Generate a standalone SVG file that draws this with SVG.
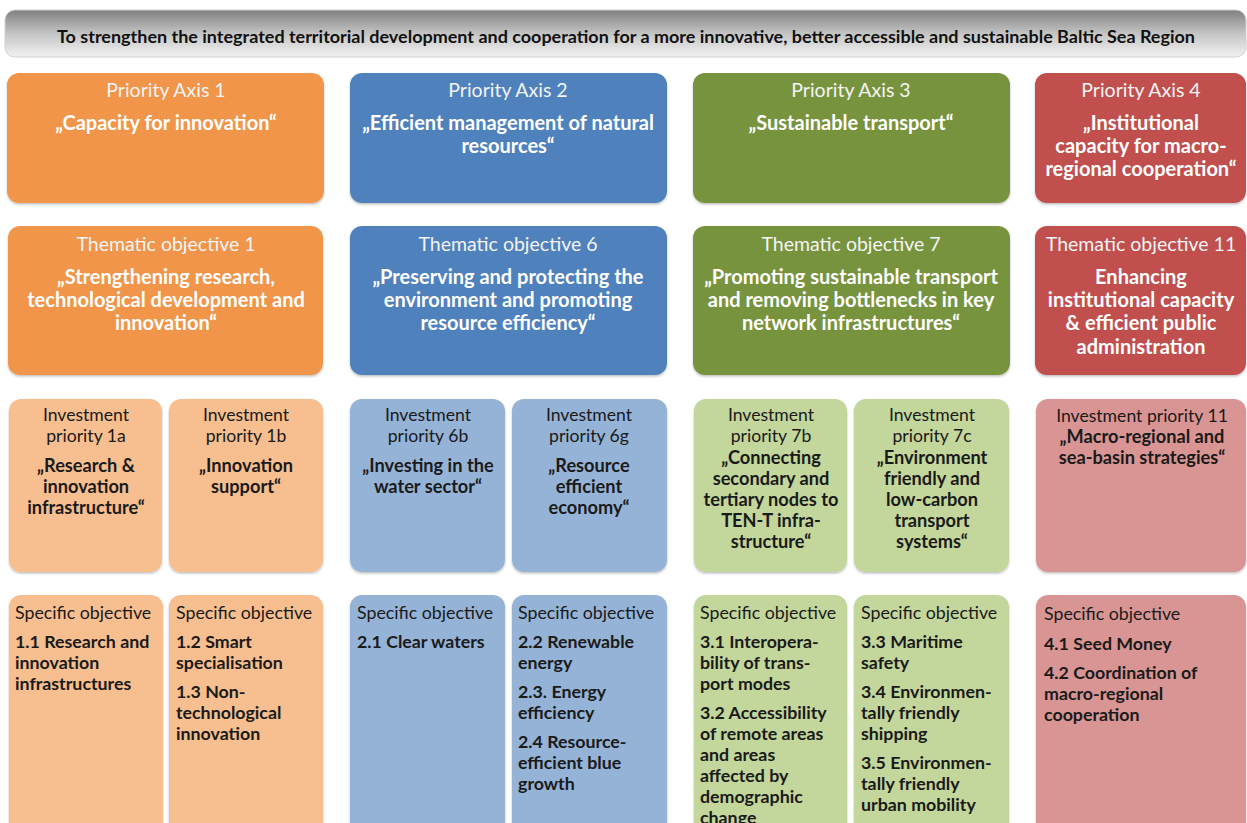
<svg xmlns="http://www.w3.org/2000/svg" width="1247" height="823" viewBox="0 0 1247 823">
<defs>
<linearGradient id="bannerGrad" x1="0" y1="0" x2="0" y2="1">
<stop offset="0" stop-color="#808080"/>
<stop offset="0.5" stop-color="#c4c4c4"/>
<stop offset="1" stop-color="#f2f2f2"/>
</linearGradient>
<filter id="shadow" x="-5%" y="-5%" width="110%" height="115%">
<feDropShadow dx="0" dy="1.5" stdDeviation="1.2" flood-color="#000" flood-opacity="0.25"/>
</filter>
<style>
text{font-family:Lato,"Open Sans","Liberation Sans",sans-serif;}
.box{filter:url(#shadow);}
.o1{fill:#F0954A;}
.b1{fill:#4F81BD;}
.g1{fill:#77933C;}
.r1{fill:#C0504D;}
.o2{fill:#F7BF8F;}
.b2{fill:#95B3D7;}
.g2{fill:#C3D69B;}
.r2{fill:#D99594;}
.wt{fill:#f4f4f4;font-size:19.5px;text-anchor:middle;}
.wb{fill:#ffffff;font-size:20px;font-weight:bold;text-anchor:middle;}
.dt{fill:#1a1a1a;font-size:17.6px;text-anchor:middle;}
.db{fill:#1a1a1a;font-size:18.2px;font-weight:bold;text-anchor:middle;}
.st{fill:#1a1a1a;font-size:17.8px;}
.sb{fill:#1a1a1a;font-size:17.8px;font-weight:bold;}
.ban{fill:#111111;font-size:16.5px;font-weight:bold;text-anchor:middle;}
</style>
</defs>
<rect width="1247" height="823" fill="#ffffff"/>

<g id="banner">
<rect x="5" y="10" width="1241" height="47" rx="10" fill="url(#bannerGrad)" stroke="#d0d0d0" stroke-width="1"/>
<text class="ban" x="626" y="43" textLength="1138" lengthAdjust="spacingAndGlyphs">To strengthen the integrated territorial development and cooperation for a more innovative, better accessible and sustainable Baltic Sea Region</text>
</g>

<g id="connectors"></g>

<!-- Priority axes -->
<g id="pa1">
<rect class="box o1" x="7" y="73" width="317" height="130" rx="12"/>
<text class="wt" x="166" y="97">Priority Axis 1</text>
<text class="wb" x="166" y="130">„Capacity for innovation“</text>
</g>
<g id="pa2">
<rect class="box b1" x="350" y="73" width="317" height="130" rx="12"/>
<text class="wt" x="508" y="97">Priority Axis 2</text>
<text class="wb" x="508" y="130">„Efficient management of natural</text>
<text class="wb" x="508" y="153">resources“</text>
</g>
<g id="pa3">
<rect class="box g1" x="693" y="73" width="317" height="130" rx="12"/>
<text class="wt" x="851" y="97">Priority Axis 3</text>
<text class="wb" x="851" y="130">„Sustainable transport“</text>
</g>
<g id="pa4">
<rect class="box r1" x="1035" y="73" width="211" height="130" rx="12"/>
<text class="wt" x="1141" y="97">Priority Axis 4</text>
<text class="wb" x="1141" y="130">„Institutional</text>
<text class="wb" x="1141" y="153">capacity for macro-</text>
<text class="wb" x="1141" y="176">regional cooperation“</text>
</g>

<!-- Thematic objectives -->
<g id="to1">
<rect class="box o1" x="8" y="226" width="315" height="149" rx="12"/>
<text class="wt" x="166" y="251">Thematic objective  1</text>
<text class="wb" x="166" y="284">„Strengthening research,</text>
<text class="wb" x="166" y="307">technological development and</text>
<text class="wb" x="166" y="330">innovation“</text>
</g>
<g id="to6">
<rect class="box b1" x="350" y="226" width="317" height="149" rx="12"/>
<text class="wt" x="508" y="251">Thematic objective  6</text>
<text class="wb" x="508" y="284">„Preserving and protecting the</text>
<text class="wb" x="508" y="307">environment and promoting</text>
<text class="wb" x="508" y="330">resource efficiency“</text>
</g>
<g id="to7">
<rect class="box g1" x="693" y="226" width="317" height="149" rx="12"/>
<text class="wt" x="851" y="251">Thematic objective  7</text>
<text class="wb" x="851" y="284">„Promoting sustainable transport</text>
<text class="wb" x="851" y="307">and removing bottlenecks in key</text>
<text class="wb" x="851" y="330">network infrastructures“</text>
</g>
<g id="to11">
<rect class="box r1" x="1035" y="226" width="211" height="149" rx="12"/>
<text class="wt" x="1141" y="251">Thematic objective  11</text>
<text class="wb" x="1141" y="284">Enhancing</text>
<text class="wb" x="1141" y="307">institutional capacity</text>
<text class="wb" x="1141" y="330">&amp; efficient public</text>
<text class="wb" x="1141" y="354">administration</text>
</g>

<!-- Investment priorities -->
<g id="ip1a">
<rect class="box o2" x="9" y="399" width="153" height="173" rx="12"/>
<text class="dt" x="86" y="421">Investment</text>
<text class="dt" x="86" y="442">priority 1a</text>
<text class="db" x="86" y="472">„Research &amp;</text>
<text class="db" x="86" y="493">innovation</text>
<text class="db" x="86" y="514">infrastructure“</text>
</g>
<g id="ip1b">
<rect class="box o2" x="169" y="399" width="154" height="173" rx="12"/>
<text class="dt" x="246" y="421">Investment</text>
<text class="dt" x="246" y="442">priority 1b</text>
<text class="db" x="246" y="472">„Innovation</text>
<text class="db" x="246" y="493">support“</text>
</g>
<g id="ip6b">
<rect class="box b2" x="350" y="399" width="155" height="173" rx="12"/>
<text class="dt" x="428" y="421">Investment</text>
<text class="dt" x="428" y="442">priority 6b</text>
<text class="db" x="428" y="472">„Investing in the</text>
<text class="db" x="428" y="493">water sector“</text>
</g>
<g id="ip6g">
<rect class="box b2" x="512" y="399" width="155" height="173" rx="12"/>
<text class="dt" x="589" y="421">Investment</text>
<text class="dt" x="589" y="442">priority 6g</text>
<text class="db" x="589" y="472">„Resource</text>
<text class="db" x="589" y="493">efficient</text>
<text class="db" x="589" y="514">economy“</text>
</g>
<g id="ip7b">
<rect class="box g2" x="694" y="399" width="153" height="173" rx="12"/>
<text class="dt" x="771" y="421">Investment</text>
<text class="dt" x="771" y="442">priority 7b</text>
<text class="db" x="771" y="464">„Connecting</text>
<text class="db" x="771" y="485">secondary and</text>
<text class="db" x="771" y="506">tertiary nodes to</text>
<text class="db" x="771" y="527">TEN-T infra-</text>
<text class="db" x="771" y="548">structure“</text>
</g>
<g id="ip7c">
<rect class="box g2" x="854" y="399" width="155" height="173" rx="12"/>
<text class="dt" x="932" y="421">Investment</text>
<text class="dt" x="932" y="442">priority 7c</text>
<text class="db" x="932" y="464">„Environment</text>
<text class="db" x="932" y="485">friendly and</text>
<text class="db" x="932" y="506">low-carbon</text>
<text class="db" x="932" y="527">transport</text>
<text class="db" x="932" y="548">systems“</text>
</g>
<g id="ip11">
<rect class="box r2" x="1036" y="399" width="210" height="173" rx="12"/>
<text class="dt" x="1142" y="422">Investment priority 11</text>
<text class="db" x="1142" y="443">„Macro-regional and</text>
<text class="db" x="1142" y="464">sea-basin strategies“</text>
</g>

<!-- Specific objectives -->
<g id="so1a">
<rect class="box o2" x="9" y="595" width="154" height="250" rx="12"/>
<text class="st" x="15" y="619">Specific objective</text>
<text class="sb" x="15" y="648">1.1 Research and</text>
<text class="sb" x="15" y="669">innovation</text>
<text class="sb" x="15" y="690">infrastructures</text>
</g>
<g id="so1b">
<rect class="box o2" x="169" y="595" width="154" height="250" rx="12"/>
<text class="st" x="176" y="619">Specific objective</text>
<text class="sb" x="176" y="648">1.2 Smart</text>
<text class="sb" x="176" y="669">specialisation</text>
<text class="sb" x="176" y="698">1.3 Non-</text>
<text class="sb" x="176" y="719">technological</text>
<text class="sb" x="176" y="740">innovation</text>
</g>
<g id="so2a">
<rect class="box b2" x="350" y="595" width="155" height="250" rx="12"/>
<text class="st" x="357" y="619">Specific objective</text>
<text class="sb" x="357" y="648">2.1 Clear waters</text>
</g>
<g id="so2b">
<rect class="box b2" x="512" y="595" width="155" height="250" rx="12"/>
<text class="st" x="518" y="619">Specific objective</text>
<text class="sb" x="518" y="648">2.2 Renewable</text>
<text class="sb" x="518" y="669">energy</text>
<text class="sb" x="518" y="698">2.3. Energy</text>
<text class="sb" x="518" y="719">efficiency</text>
<text class="sb" x="518" y="748">2.4 Resource-</text>
<text class="sb" x="518" y="769">efficient blue</text>
<text class="sb" x="518" y="790">growth</text>
</g>
<g id="so3a">
<rect class="box g2" x="694" y="595" width="153" height="250" rx="12"/>
<text class="st" x="700" y="619">Specific objective</text>
<text class="sb" x="700" y="648">3.1 Interopera-</text>
<text class="sb" x="700" y="669">bility of trans-</text>
<text class="sb" x="700" y="690">port modes</text>
<text class="sb" x="700" y="719">3.2 Accessibility</text>
<text class="sb" x="700" y="740">of remote areas</text>
<text class="sb" x="700" y="761">and areas</text>
<text class="sb" x="700" y="782">affected by</text>
<text class="sb" x="700" y="803">demographic</text>
<text class="sb" x="700" y="824">change</text>
</g>
<g id="so3b">
<rect class="box g2" x="854" y="595" width="155" height="250" rx="12"/>
<text class="st" x="861" y="619">Specific objective</text>
<text class="sb" x="861" y="648">3.3 Maritime</text>
<text class="sb" x="861" y="669">safety</text>
<text class="sb" x="861" y="698">3.4 Environmen-</text>
<text class="sb" x="861" y="719">tally friendly</text>
<text class="sb" x="861" y="740">shipping</text>
<text class="sb" x="861" y="769">3.5 Environmen-</text>
<text class="sb" x="861" y="790">tally friendly</text>
<text class="sb" x="861" y="811">urban mobility</text>
</g>
<g id="so4">
<rect class="box r2" x="1036" y="595" width="210" height="250" rx="12"/>
<text class="st" x="1044" y="620">Specific objective</text>
<text class="sb" x="1044" y="650">4.1 Seed Money</text>
<text class="sb" x="1044" y="679">4.2 Coordination of</text>
<text class="sb" x="1044" y="700">macro-regional</text>
<text class="sb" x="1044" y="721">cooperation</text>
</g>
</svg>
